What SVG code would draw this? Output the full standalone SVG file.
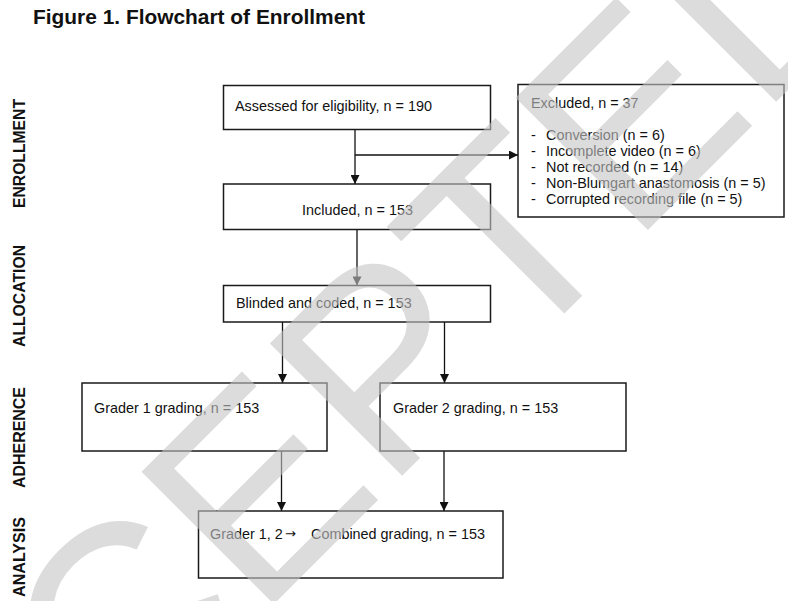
<svg xmlns="http://www.w3.org/2000/svg" width="788" height="601" viewBox="0 0 788 601">
<defs>
<style>
.box{fill:#fff;stroke:#1a1a1a;stroke-width:1.5}
.t{font-family:"Liberation Sans",Arial,sans-serif;font-size:14.4px;fill:#111}
.side{font-family:"Liberation Sans",Arial,sans-serif;font-size:15.6px;font-weight:bold;fill:#111}
.title{font-family:"Liberation Sans",Arial,sans-serif;font-size:20.5px;font-weight:bold;fill:#111}
.ln{fill:none;stroke:#111;stroke-width:1.3;marker-end:url(#ah)}
.wm{font-family:"Liberation Sans",Arial,sans-serif;font-size:272px;fill:#c4c4c4;fill-opacity:0.6}
</style>
<marker id="ah" viewBox="0 0 10 10" refX="10" refY="5" markerWidth="10" markerHeight="9" markerUnits="userSpaceOnUse" orient="auto">
<path d="M0,0 L10,5 L0,10 z" fill="#111"/>
</marker>
</defs>
<rect width="788" height="601" fill="#fff"/>
<text class="title" x="33" y="24" textLength="332" lengthAdjust="spacingAndGlyphs">Figure 1. Flowchart of Enrollment</text>
<g id="side-labels">
<text class="side" transform="translate(24.5,153.5) rotate(-90)" text-anchor="middle" textLength="109" lengthAdjust="spacingAndGlyphs">ENROLLMENT</text>
<text class="side" transform="translate(24.5,296) rotate(-90)" text-anchor="middle" textLength="102" lengthAdjust="spacingAndGlyphs">ALLOCATION</text>
<text class="side" transform="translate(24.5,437.5) rotate(-90)" text-anchor="middle" textLength="101" lengthAdjust="spacingAndGlyphs">ADHERENCE</text>
<text class="side" transform="translate(24.5,557) rotate(-90)" text-anchor="middle" textLength="80" lengthAdjust="spacingAndGlyphs">ANALYSIS</text>
</g>
<g id="connectors">
<line class="ln" x1="355" y1="129.5" x2="355" y2="184"/>
<line class="ln" x1="355" y1="155" x2="518" y2="155"/>
<line class="ln" x1="357" y1="229.5" x2="357" y2="285.5"/>
<line class="ln" x1="282.5" y1="322" x2="282.5" y2="383"/>
<line class="ln" x1="444.5" y1="322" x2="444.5" y2="383"/>
<line class="ln" x1="281.5" y1="451" x2="281.5" y2="511"/>
<line class="ln" x1="444" y1="451" x2="444" y2="511"/>
</g>
<g id="assessed">
<rect class="box" x="223.5" y="85.5" width="267" height="44"/>
<text class="t" x="235" y="111">Assessed for eligibility, n = 190</text>
</g>
<g id="excluded">
<rect class="box" x="518" y="84.5" width="266" height="132.5"/>
<text class="t" x="531" y="108">Excluded, n = 37</text>
<text class="t" x="531" y="140">-</text><text class="t" x="546" y="140">Conversion (n = 6)</text>
<text class="t" x="531" y="156">-</text><text class="t" x="546" y="156">Incomplete video (n = 6)</text>
<text class="t" x="531" y="172">-</text><text class="t" x="546" y="172">Not recorded (n = 14)</text>
<text class="t" x="531" y="188">-</text><text class="t" x="546" y="188">Non-Blumgart anastomosis (n = 5)</text>
<text class="t" x="531" y="203.5">-</text><text class="t" x="546" y="203.5">Corrupted recording file (n = 5)</text>
</g>
<g id="included">
<rect class="box" x="223.5" y="184" width="267" height="45.5"/>
<text class="t" x="357.5" y="215" text-anchor="middle">Included, n = 153</text>
</g>
<g id="blinded">
<rect class="box" x="223.5" y="285.5" width="267" height="36.5"/>
<text class="t" x="236" y="308">Blinded and coded, n = 153</text>
</g>
<g id="grader1">
<rect class="box" x="82" y="383" width="245" height="68"/>
<text class="t" x="94" y="413">Grader 1 grading, n = 153</text>
</g>
<g id="grader2">
<rect class="box" x="380" y="383" width="246" height="68"/>
<text class="t" x="393" y="413">Grader 2 grading, n = 153</text>
</g>
<g id="combined">
<rect class="box" x="198.5" y="511" width="304.5" height="67"/>
<text class="t" x="210" y="539">Grader 1, 2</text>
<text class="t" x="285" y="538" style="font-family:'DejaVu Sans',sans-serif;font-size:13px">→</text>
<text class="t" x="311" y="539">Combined grading, n = 153</text>
</g>
<text class="wm" transform="translate(-148,1026) rotate(-45)">ACCEPTED</text>
</svg>
